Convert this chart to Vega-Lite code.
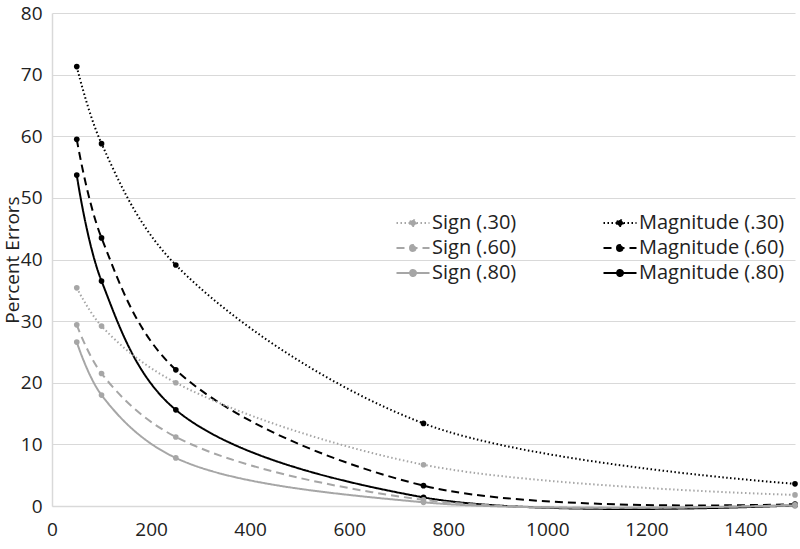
{
  "$schema": "https://vega.github.io/schema/vega-lite/v6.json",
  "width": 743,
  "height": 493,
  "autosize": {"type": "none"},
  "padding": {"left": 52, "top": 13, "right": 5, "bottom": 43},
  "background": "white",
  "config": {
    "font": "Open Sans",
    "view": {"stroke": null},
    "axis": {"labelFont": "Open Sans", "titleFont": "Open Sans", "labelColor": "#222", "titleColor": "#222"}
  },
  "data": {"values": [
    {"series": "Magnitude (.30)", "n": 50, "pct": 71.3},
    {"series": "Magnitude (.30)", "n": 100, "pct": 58.8},
    {"series": "Magnitude (.30)", "n": 250, "pct": 39.1},
    {"series": "Magnitude (.30)", "n": 750, "pct": 13.4},
    {"series": "Magnitude (.30)", "n": 1500, "pct": 3.6},
    {"series": "Magnitude (.60)", "n": 50, "pct": 59.5},
    {"series": "Magnitude (.60)", "n": 100, "pct": 43.5},
    {"series": "Magnitude (.60)", "n": 250, "pct": 22.1},
    {"series": "Magnitude (.60)", "n": 750, "pct": 3.3},
    {"series": "Magnitude (.60)", "n": 1500, "pct": 0.3},
    {"series": "Magnitude (.80)", "n": 50, "pct": 53.7},
    {"series": "Magnitude (.80)", "n": 100, "pct": 36.5},
    {"series": "Magnitude (.80)", "n": 250, "pct": 15.6},
    {"series": "Magnitude (.80)", "n": 750, "pct": 1.4},
    {"series": "Magnitude (.80)", "n": 1500, "pct": 0.1},
    {"series": "Sign (.30)", "n": 50, "pct": 35.4},
    {"series": "Sign (.30)", "n": 100, "pct": 29.2},
    {"series": "Sign (.30)", "n": 250, "pct": 20.0},
    {"series": "Sign (.30)", "n": 750, "pct": 6.7},
    {"series": "Sign (.30)", "n": 1500, "pct": 1.8},
    {"series": "Sign (.60)", "n": 50, "pct": 29.4},
    {"series": "Sign (.60)", "n": 100, "pct": 21.5},
    {"series": "Sign (.60)", "n": 250, "pct": 11.2},
    {"series": "Sign (.60)", "n": 750, "pct": 1.0},
    {"series": "Sign (.60)", "n": 1500, "pct": 0.2},
    {"series": "Sign (.80)", "n": 50, "pct": 26.6},
    {"series": "Sign (.80)", "n": 100, "pct": 18.0},
    {"series": "Sign (.80)", "n": 250, "pct": 7.8},
    {"series": "Sign (.80)", "n": 750, "pct": 0.6},
    {"series": "Sign (.80)", "n": 1500, "pct": 0.1}
  ]},
  "encoding": {
    "x": {
      "field": "n", "type": "quantitative",
      "scale": {"domain": [0, 1500], "nice": false},
      "axis": {"title": null, "values": [0, 200, 400, 600, 800, 1000, 1200, 1400], "format": "d", "grid": false, "ticks": false,
               "domainColor": "#d9d9d9", "domainWidth": 1.5, "labelFontSize": 19, "labelPadding": 14, "labelFlush": false}
    },
    "y": {
      "field": "pct", "type": "quantitative",
      "scale": {"domain": [0, 80], "nice": false},
      "axis": {"title": "Percent Errors", "values": [0, 10, 20, 30, 40, 50, 60, 70, 80], "ticks": false,
               "gridColor": "#d9d9d9", "gridWidth": 1.2, "domainColor": "#d9d9d9", "domainWidth": 1.5,
               "labelFontSize": 19, "labelPadding": 10, "titleFontSize": 19, "titleFontWeight": "normal",
               "titleX": -30, "titleBaseline": "bottom"}
    }
  },
  "layer": [
    {
      "mark": {"type": "line", "interpolate": "catmull-rom", "strokeWidth": 2},
      "encoding": {
        "strokeDash": {
          "field": "series", "type": "nominal",
          "scale": {
            "domain": ["Sign (.30)", "Sign (.60)", "Sign (.80)", "Magnitude (.30)", "Magnitude (.60)", "Magnitude (.80)"],
            "range": [[1.5, 2.5], [8, 5], [1, 0], [1.5, 2.5], [8, 5], [1, 0]]
          },
          "legend": {
            "title": null, "orient": "none", "legendX": 351, "legendY": 200, "columns": 2,
            "symbolType": "M-3.3,0H3.3M-0.6,0a0.6,0.6 0 1,0 1.2,0a0.6,0.6 0 1,0 -1.2,0Z", "symbolSize": 100, "symbolStrokeWidth": 2,
            "labelFontSize": 20, "labelFont": "Open Sans", "labelColor": "#222", "labelOffset": 9,
            "columnPadding": 82, "rowPadding": 5,
            "encode": {"symbols": {"update": {"fill": {"scale": "color", "field": "value"}}}}
          }
        },
        "color": {
          "field": "series", "type": "nominal",
          "scale": {
            "domain": ["Sign (.30)", "Sign (.60)", "Sign (.80)", "Magnitude (.30)", "Magnitude (.60)", "Magnitude (.80)"],
            "range": ["#a6a6a6", "#a6a6a6", "#a6a6a6", "#000000", "#000000", "#000000"]
          },
          "legend": {
            "title": null, "orient": "none", "legendX": 351, "legendY": 200, "columns": 2,
            "symbolType": "M-3.3,0H3.3M-0.6,0a0.6,0.6 0 1,0 1.2,0a0.6,0.6 0 1,0 -1.2,0Z", "symbolSize": 100, "symbolStrokeWidth": 2,
            "labelFontSize": 20, "labelFont": "Open Sans", "labelColor": "#222", "labelOffset": 9,
            "columnPadding": 82, "rowPadding": 5,
            "encode": {"symbols": {"update": {"fill": {"scale": "color", "field": "value"}}}}
          }
        }
      }
    },
    {
      "mark": {"type": "point", "filled": true, "size": 32, "opacity": 1},
      "encoding": {
        "fill": {
          "field": "series", "type": "nominal",
          "scale": {
            "domain": ["Sign (.30)", "Sign (.60)", "Sign (.80)", "Magnitude (.30)", "Magnitude (.60)", "Magnitude (.80)"],
            "range": ["#a6a6a6", "#a6a6a6", "#a6a6a6", "#000000", "#000000", "#000000"]
          },
          "legend": null
        }
      }
    }
  ]
}
